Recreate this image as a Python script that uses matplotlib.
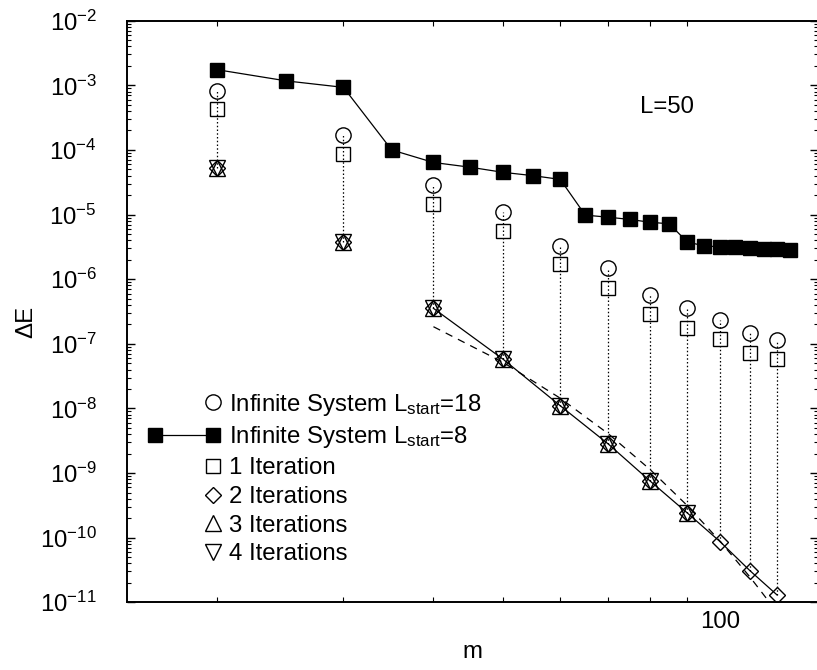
import numpy as np
import matplotlib
matplotlib.use("Agg")
import matplotlib.pyplot as plt
from matplotlib.legend_handler import HandlerLine2D
from matplotlib.ticker import FixedLocator, FixedFormatter, LogFormatterSciNotation, NullFormatter

plt.rcParams['font.family'] = ['Liberation Sans', 'DejaVu Sans']
plt.rcParams['mathtext.fontset'] = 'custom'
plt.rcParams['mathtext.rm'] = 'Liberation Sans'
plt.rcParams['mathtext.it'] = 'Liberation Sans:italic'
plt.rcParams['mathtext.default'] = 'regular'

# infinite system algorithm, L_start = 8 (filled squares)
m_inf8 = [20, 25, 30, 35, 40, 45, 50, 55, 60, 65, 70, 75, 80, 85, 90, 95, 100, 105, 110, 115, 120, 125]
dE_inf8 = [1.75e-3, 1.17e-3, 9.3e-4, 1.0e-4, 6.4e-5, 5.4e-5, 4.5e-5, 4.0e-5, 3.5e-5,
           9.8e-6, 9.1e-6, 8.4e-6, 7.6e-6, 7.2e-6, 3.8e-6, 3.26e-6, 3.18e-6, 3.1e-6,
           3.0e-6, 2.95e-6, 2.9e-6, 2.83e-6]

# sweeps at m = 20 ... 120
m_sweep = [20, 30, 40, 50, 60, 70, 80, 90, 100, 110, 120]
dE_inf18 = [8.2e-4, 1.7e-4, 2.9e-5, 1.1e-5, 3.3e-6, 1.47e-6, 5.6e-7, 3.54e-7, 2.33e-7, 1.45e-7, 1.15e-7]
dE_iter1 = [4.25e-4, 8.65e-5, 1.46e-5, 5.6e-6, 1.7e-6, 7.4e-7, 2.9e-7, 1.78e-7, 1.17e-7, 7.3e-8, 5.75e-8]
dE_iter2 = [5.3e-5, 3.7e-6, 3.54e-7, 5.75e-8, 1.1e-8, 2.8e-9, 7.5e-10, 2.43e-10, 8.7e-11, 3.1e-11, 1.3e-11]
m_iter34 = [20, 30, 40, 50, 60, 70, 80, 90]
dE_iter3 = [5.3e-5, 3.7e-6, 3.54e-7, 5.75e-8, 1.1e-8, 2.8e-9, 7.5e-10, 2.43e-10]
dE_iter4 = [5.3e-5, 3.7e-6, 3.54e-7, 5.75e-8, 1.1e-8, 2.8e-9, 7.5e-10, 2.43e-10]

# dashed fit curve
m_fit = [40, 50, 60, 70, 80, 90, 100, 110, 116]
dE_fit = [1.84e-7, 5.15e-8, 1.44e-8, 4.04e-9, 1.13e-9, 3.16e-10, 8.85e-11, 2.48e-11, 1.15e-11]

labels = [r'Infinite System L$_{start}$=18', r'Infinite System L$_{start}$=8',
          '1 Iteration', '2 Iterations', '3 Iterations', '4 Iterations']

# axis ticks
x_ticks = [100]
x_ticklabels = ['100']
x_minor = [20, 30, 40, 50, 60, 70, 80, 90]
y_decades = np.arange(-11, -1)

fs = 17.3

fig = plt.figure(figsize=(8.17, 6.70), dpi=100)
ax = fig.add_axes([126.7 / 817, 67.7 / 670, 691.3 / 817, 581.6 / 670])
ax.set_xscale('log')
ax.set_yscale('log')

ax.vlines(m_sweep, dE_iter2, dE_inf18, colors='black', linestyles=(0, (1.2, 1.8)), linewidth=0.9, zorder=1)
ax.plot(m_fit, dE_fit, color='black', linestyle=(0, (6, 5)), linewidth=0.9, zorder=1)
ax.plot(m_sweep[2:], dE_iter2[2:], color='black', linewidth=0.9, zorder=1)

h18, = ax.plot(m_sweep, dE_inf18, 'o', ms=11, mfc='none', mec='black', mew=1.0, zorder=3)
h8, = ax.plot(m_inf8, dE_inf8, 's-', color='black', ms=9.5, mfc='black', mec='black', lw=0.9, zorder=3)
h1, = ax.plot(m_sweep, dE_iter1, 's', ms=9.5, mfc='none', mec='black', mew=1.0, zorder=3)
h2, = ax.plot(m_sweep, dE_iter2, 'D', ms=8.5, mfc='none', mec='black', mew=1.0, zorder=3)
h3, = ax.plot(m_iter34, dE_iter3, '^', ms=11.5, mfc='none', mec='black', mew=1.0, zorder=3)
h4, = ax.plot(m_iter34, dE_iter4, 'v', ms=11.5, mfc='none', mec='black', mew=1.0, zorder=3)


class RightMarker(HandlerLine2D):
    # single marker at the right end of the handle, gnuplot style
    def get_xdata(self, legend, xdescent, ydescent, width, height, fontsize):
        xm = -xdescent + width - self._marker_pad * fontsize
        return np.array([xm - 1, xm + 1]), np.array([xm])


hmap = {h8: HandlerLine2D(numpoints=2)}
for h in (h18, h1, h2, h3, h4):
    hmap[h] = RightMarker(numpoints=1)

ax.legend([h18, h8, h1, h2, h3, h4], labels, loc='upper left', bbox_to_anchor=(0.0305, 0.362),
          frameon=False, borderpad=0, borderaxespad=0, handlelength=3.0, handletextpad=0.4,
          labelspacing=0.28, fontsize=fs, handler_map=hmap)

ax.text(0.7816, 0.8508, 'L=50', transform=ax.transAxes, ha='center', va='center', fontsize=fs)

ax.set_xlim(15, 136.8)
ax.set_ylim(1e-11, 1e-2)

ax.xaxis.set_major_locator(FixedLocator(x_ticks))
ax.xaxis.set_major_formatter(FixedFormatter(x_ticklabels))
ax.xaxis.set_minor_locator(FixedLocator(x_minor))
ax.xaxis.set_minor_formatter(NullFormatter())
ax.yaxis.set_major_locator(FixedLocator(10.0 ** y_decades))
ax.yaxis.set_major_formatter(LogFormatterSciNotation())
ax.yaxis.set_minor_locator(FixedLocator([d * 10.0 ** k for k in y_decades[:-1] for d in range(2, 10)]))
ax.yaxis.set_minor_formatter(NullFormatter())

ax.tick_params(which='both', direction='in', top=True, right=True, labelsize=fs)
ax.tick_params(axis='y', which='major', length=5.8, width=1.0, pad=21.4)
ax.tick_params(axis='y', which='minor', length=2.9, width=0.8)
ax.tick_params(axis='x', which='major', length=0, pad=6)
ax.tick_params(axis='x', which='minor', length=3.6, width=0.8)
for s in ax.spines.values():
    s.set_linewidth(1.4)

ax.set_xlabel('m', fontsize=fs)
ax.set_ylabel('ΔE', fontsize=fs)
ax.xaxis.set_label_coords(0.5, -0.066)
ax.yaxis.set_label_coords(-0.13, 0.482)

fig.savefig('out.png', dpi=100)
